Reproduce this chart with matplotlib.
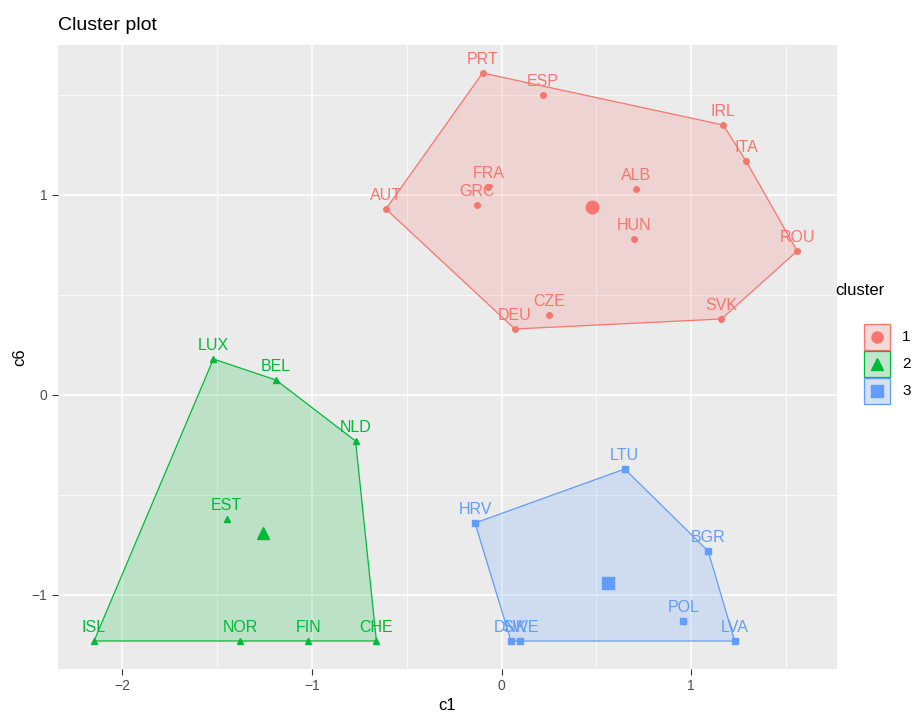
import numpy as np
import matplotlib
matplotlib.use("Agg")
import matplotlib.pyplot as plt
from matplotlib.patches import Polygon, Rectangle

plt.rcParams["font.family"] = ["Liberation Sans", "DejaVu Sans"]

# ---- data ----
c1_names = ["PRT", "ESP", "IRL", "ITA", "ROU", "SVK", "DEU", "CZE", "AUT", "GRC", "FRA", "ALB", "HUN"]
c1_x = [-0.10, 0.22, 1.17, 1.29, 1.56, 1.16, 0.07, 0.25, -0.61, -0.13, -0.07, 0.71, 0.70]
c1_y = [1.61, 1.50, 1.35, 1.17, 0.72, 0.38, 0.33, 0.40, 0.93, 0.95, 1.04, 1.03, 0.78]
c1_center = (0.48, 0.94)

c2_names = ["LUX", "BEL", "NLD", "EST", "ISL", "NOR", "FIN", "CHE"]
c2_x = [-1.52, -1.19, -0.77, -1.45, -2.15, -1.38, -1.02, -0.66]
c2_y = [0.18, 0.075, -0.23, -0.62, -1.23, -1.23, -1.23, -1.23]
c2_center = (-1.26, -0.69)

c3_names = ["HRV", "LTU", "BGR", "POL", "LVA", "DNK", "SWE"]
c3_x = [-0.14, 0.65, 1.09, 0.96, 1.23, 0.05, 0.10]
c3_y = [-0.64, -0.37, -0.78, -1.13, -1.23, -1.23, -1.23]
c3_center = (0.56, -0.94)

cluster_labels = ["1", "2", "3"]
colors = ["#F8766D", "#00BA38", "#619CFF"]
markers = ["o", "^", "s"]

x_ticks = [-2, -1, 0, 1]
y_ticks = [-1, 0, 1]


def hull(px, py):
    pts = sorted(set(zip(px, py)))
    def cross(o, a, b):
        return (a[0]-o[0])*(b[1]-o[1]) - (a[1]-o[1])*(b[0]-o[0])
    lower, upper = [], []
    for p in pts:
        while len(lower) >= 2 and cross(lower[-2], lower[-1], p) <= 0:
            lower.pop()
        lower.append(p)
    for p in reversed(pts):
        while len(upper) >= 2 and cross(upper[-2], upper[-1], p) <= 0:
            upper.pop()
        upper.append(p)
    return np.array(lower[:-1] + upper[:-1])


W, H = 923, 719
fig = plt.figure(figsize=(W/100, H/100), dpi=100)
ax = fig.add_axes([58/W, 1-669/H, (837-58)/W, (669-45)/H])
ax.set_facecolor("#EBEBEB")
ax.set_xticks(x_ticks)
ax.set_yticks(y_ticks)
ax.set_xticks([-1.5, -0.5, 0.5, 1.5], minor=True)
ax.set_yticks([-0.5, 0.5, 1.5], minor=True)
ax.set_xlim(-2.34, 1.77)
ax.set_ylim(-1.37, 1.75)
ax.grid(which="major", color="white", linewidth=1.1)
ax.grid(which="minor", color="white", linewidth=0.55)
ax.set_axisbelow(True)
for s in ax.spines.values():
    s.set_visible(False)
ax.tick_params(which="major", length=4, color="#333333", labelsize=10, labelcolor="#4D4D4D")
ax.tick_params(which="minor", length=0)
ax.set_xlabel("c1", fontsize=12, labelpad=3)
ax.set_ylabel("c6", fontsize=12, labelpad=3)
fig.text(58/W, 1-25/H, "Cluster plot", fontsize=14, va="center", ha="left")

groups = [
    (c1_names, c1_x, c1_y, c1_center),
    (c2_names, c2_x, c2_y, c2_center),
    (c3_names, c3_x, c3_y, c3_center),
]
for (names, xs, ys, cen), col, mk in zip(groups, colors, markers):
    h = hull(xs, ys)
    ax.add_patch(Polygon(h, closed=True, facecolor=col, alpha=0.2, edgecolor="none", zorder=2))
    ax.add_patch(Polygon(h, closed=True, facecolor="none", edgecolor=col, linewidth=0.9, zorder=3))
    ax.plot(xs, ys, linestyle="none", marker=mk, color=col, markersize=4, zorder=4)
    ax.plot([cen[0]], [cen[1]], linestyle="none", marker=mk, color=col, markersize=9, zorder=4)
    for n, x, y in zip(names, xs, ys):
        ax.annotate(n, (x, y), xytext=(0, 4), textcoords="offset points",
                    ha="center", va="bottom", color=col, fontsize=11.5, zorder=5)

# legend (manual, ggplot style)
fig.text(835/W, 1-290/H, "cluster", fontsize=12, va="center", ha="left")
lax = fig.add_axes([0, 0, 1, 1], facecolor="none")
lax.set_xlim(0, W)
lax.set_ylim(H, 0)
lax.axis("off")
for i, (col, mk, lab) in enumerate(zip(colors, markers, cluster_labels)):
    y0 = 324 + i * 27
    lax.add_patch(Rectangle((864, y0), 26, 26, facecolor="#F2F2F2", edgecolor="none"))
    lax.add_patch(Rectangle((864, y0), 26, 26, facecolor=col, alpha=0.2, edgecolor="none"))
    lax.add_patch(Rectangle((864, y0), 26, 26, facecolor="none", edgecolor=col, linewidth=0.9))
    lax.plot([877], [y0 + 13], marker=mk, color=col, markersize=8, linestyle="none")
    lax.text(902, y0 + 13, lab, fontsize=11, va="center", ha="left")

fig.savefig("out.png", dpi=100)
